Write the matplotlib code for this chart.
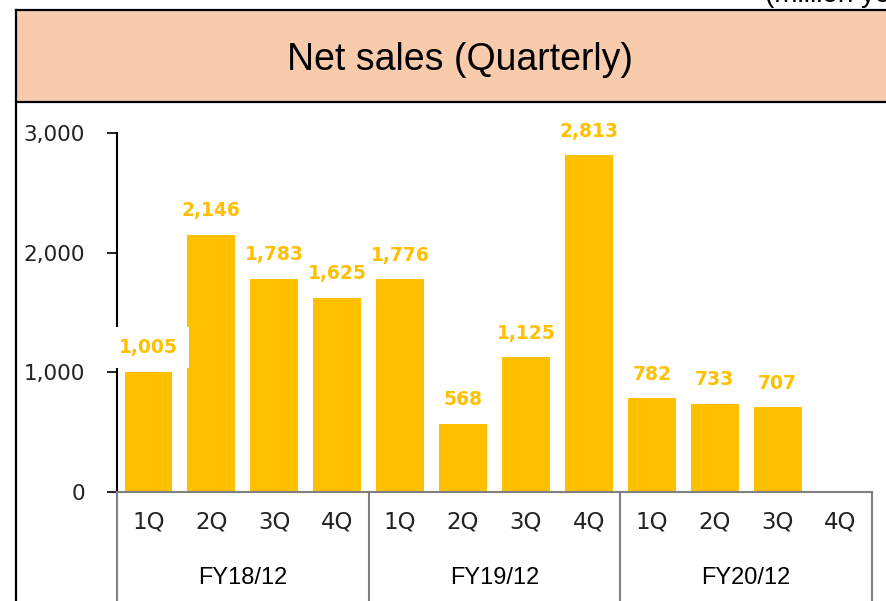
import matplotlib.pyplot as plt
from matplotlib.patches import Rectangle
from matplotlib.lines import Line2D
import matplotlib.transforms as mtransforms

# ==========================================================
# DATA
# ==========================================================

quarters = ["1Q", "2Q", "3Q", "4Q"] * 3
fiscal_years = ["FY18/12", "FY19/12", "FY20/12"]
net_sales = [1005, 2146, 1783, 1625, 1776, 568, 1125, 2813, 782, 733, 707]
yticks = [0, 1000, 2000, 3000]

BAR_COLOR = "#FFC000"
GRID_GRAY = "#808080"

# ==========================================================
# FIGURE
# ==========================================================

fig = plt.figure(figsize=(8.87, 6.01), dpi=100)

# title band
band = Rectangle((16 / 887, 499 / 601), 1.0, 92 / 601, transform=fig.transFigure,
                 facecolor="#F7CBAC", edgecolor="none", zorder=0)
fig.patches.append(band)
for yy in (499 / 601, 591 / 601):
    fig.add_artist(Line2D([16 / 887, 1.0], [yy, yy], transform=fig.transFigure,
                          color="black", lw=1.6))
fig.add_artist(Line2D([16 / 887, 16 / 887], [0, 591 / 601], transform=fig.transFigure,
                      color="black", lw=1.6))

fig.text(0.519, 0.900, "Net sales (Quarterly)", ha="center", va="center",
         fontsize=27, family="Liberation Sans")
fig.text(0.862, 0.997, "(million yen)", ha="left", va="baseline",
         fontsize=20, family="Liberation Sans")

ax = fig.add_axes([117 / 887, 109 / 601, 755 / 887, 359 / 601])

x = list(range(len(net_sales)))
ax.bar(x, net_sales, width=0.76, color=BAR_COLOR, zorder=2)

for xi, v in zip(x, net_sales):
    lbl = ax.annotate(f"{v:,}", (xi, v), xytext=(0, 17.5), textcoords="offset points",
                      ha="center", va="center", fontsize=13.5, fontweight="bold",
                      color=BAR_COLOR, zorder=5, annotation_clip=False)
    # the first label sits on a white box that hides the axis and the next bar edge
    if xi == 0:
        lbl.set_bbox(dict(facecolor="white", edgecolor="none", pad=8))

ax.set_xlim(-0.5, 11.5)
ax.set_ylim(0, 3000)
ax.set_yticks(yticks)
ax.set_yticklabels([f"{t:,}" for t in yticks], fontsize=15.5, color="#222222")
ax.tick_params(axis="y", length=7, width=1.2, pad=16, direction="out")
ax.set_xticks([])

for side in ("top", "right"):
    ax.spines[side].set_visible(False)
ax.spines["left"].set_linewidth(1.5)
ax.spines["bottom"].set_color(GRID_GRAY)
ax.spines["bottom"].set_linewidth(1.5)

# category table under the axis
trans = mtransforms.blended_transform_factory(ax.transData, ax.transAxes)
bottom = -109 / 359
for xv in (-0.5, 3.5, 7.5, 11.5):
    ax.add_line(Line2D([xv, xv], [0, bottom], transform=trans, color=GRID_GRAY,
                       lw=1.5, clip_on=False))

for xi, q in enumerate(quarters):
    ax.text(xi, -30 / 359, q, transform=trans, ha="center", va="center",
            fontsize=16.5, color="#222222")

for i, fy in enumerate(fiscal_years):
    ax.text(4 * i + 1.5, -86 / 359, fy, transform=trans, ha="center", va="center",
            fontsize=17, family="Liberation Sans")

fig.savefig("out.png", dpi=100)
